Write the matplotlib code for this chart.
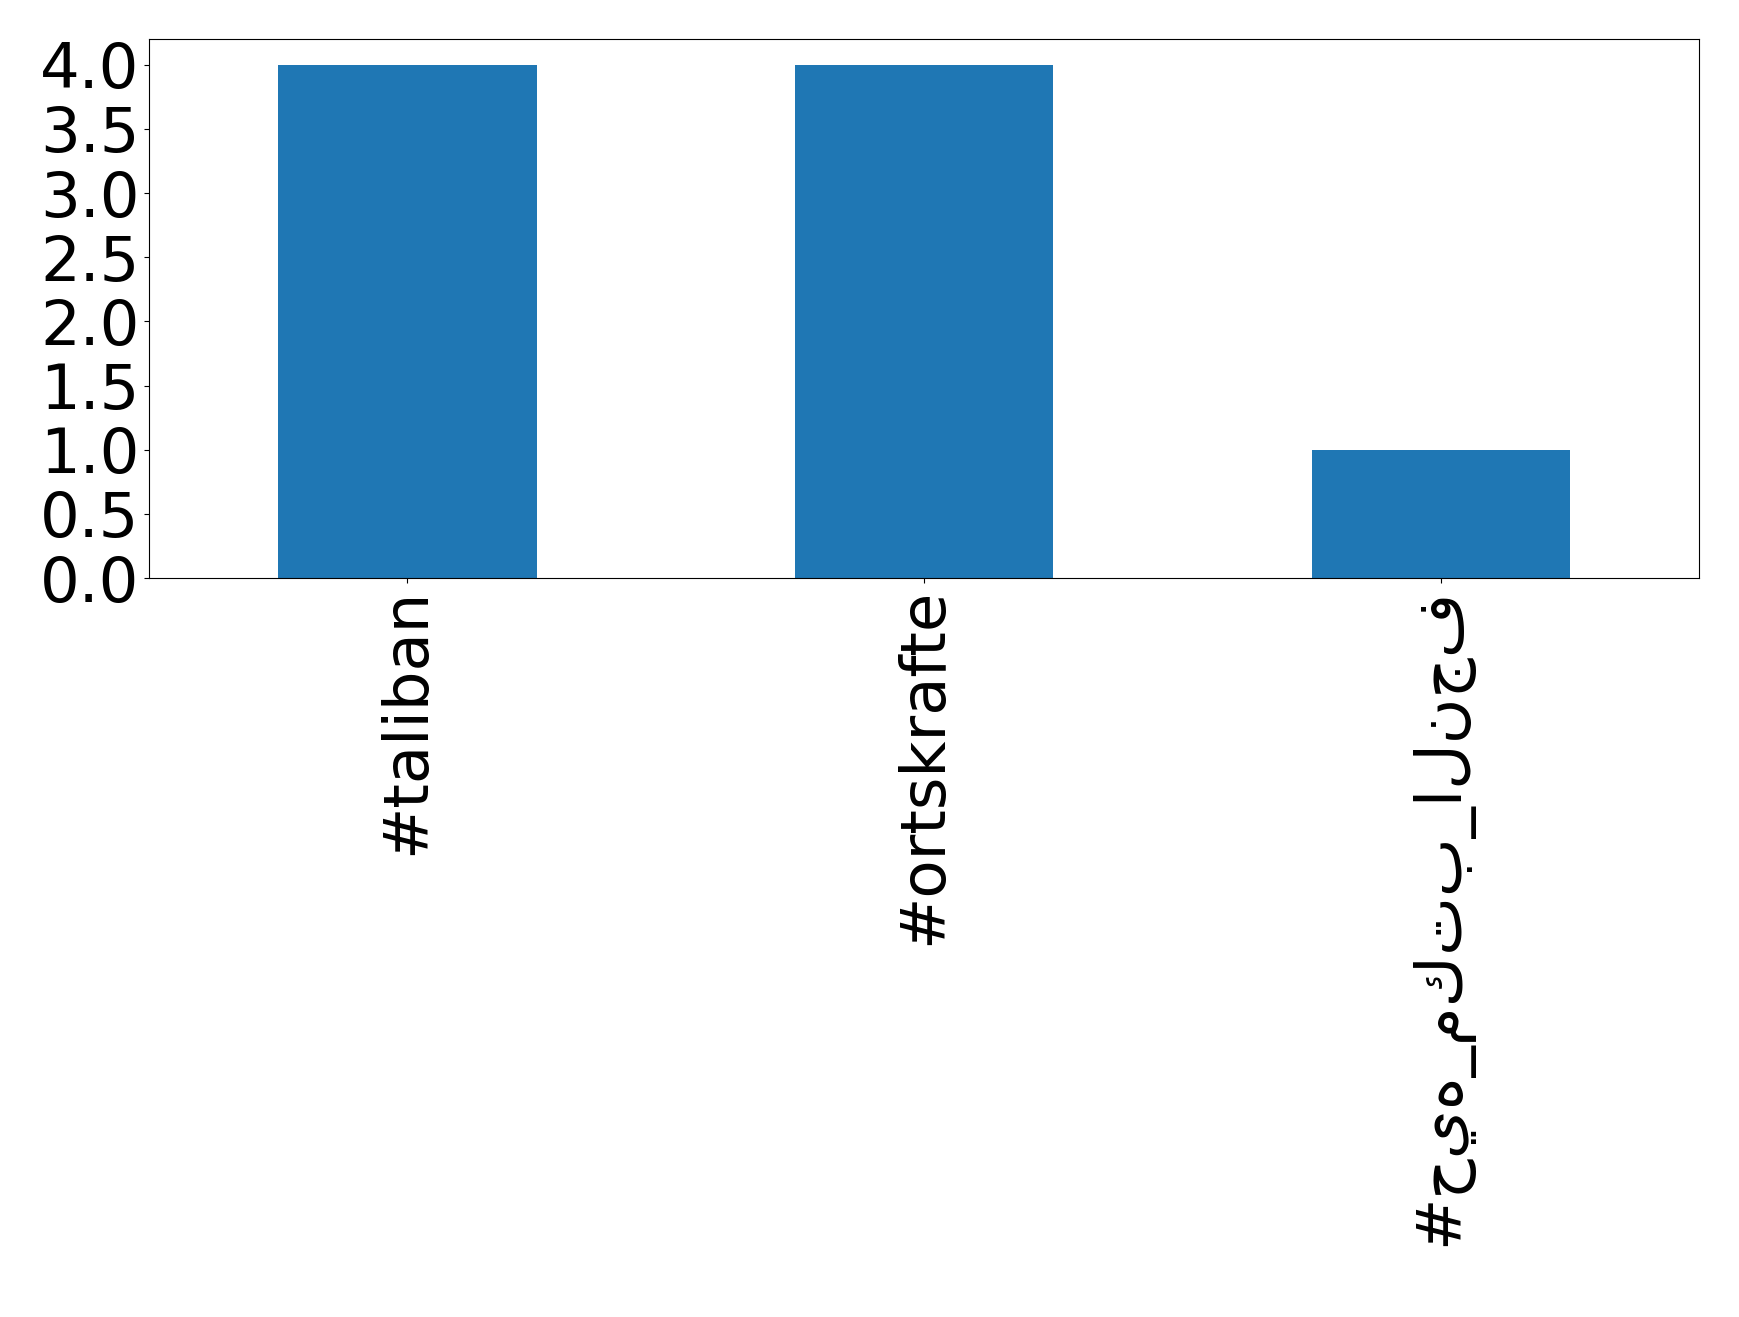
import matplotlib
matplotlib.use("Agg")
import matplotlib.pyplot as plt
from matplotlib.ticker import MultipleLocator, FormatStrFormatter

categories = ["#taliban", "#ortskrafte", "#حيه_مكتب_النجف"]
counts = [4, 4, 1]

fig = plt.figure(figsize=(17.39, 13.17), dpi=100)
ax = fig.add_axes([149 / 1739, 1 - 578 / 1317, (1699 - 149) / 1739, (578 - 39) / 1317])
ax.bar(range(len(categories)), counts, width=0.5, color="#1f77b4")
ax.set_xlim(-0.5, len(categories) - 0.5)
ax.set_xticks(range(len(categories)))
ax.set_xticklabels(categories, rotation=90, fontsize=45, family=["DejaVu Sans"])
ax.yaxis.set_major_locator(MultipleLocator(0.5))
ax.yaxis.set_major_formatter(FormatStrFormatter("%.1f"))
ax.tick_params(axis="y", labelsize=45)
fig.savefig("out.png", dpi=100)
